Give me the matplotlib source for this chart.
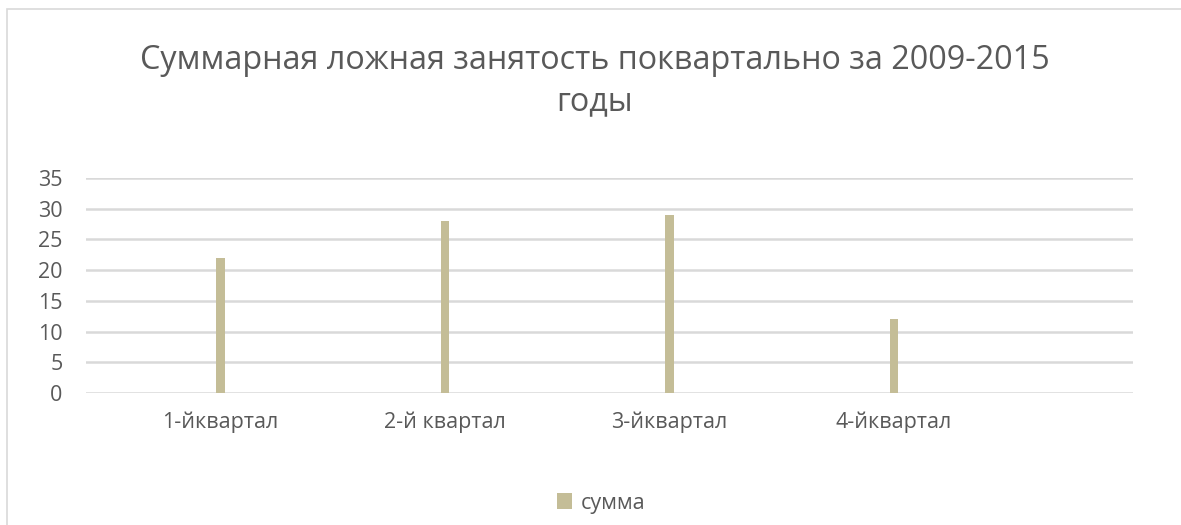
import matplotlib
matplotlib.use("Agg")
import matplotlib.pyplot as plt
from matplotlib.patches import Rectangle
import numpy as np

plt.rcParams['font.family'] = ['Open Sans', 'DejaVu Sans']

title = "Суммарная ложная занятость поквартально за 2009-2015\nгоды"
categories = ["1-йквартал", "2-й квартал", "3-йквартал", "4-йквартал"]
values = [22, 28, 29, 12]
series_name = "сумма"
yticks = [0, 5, 10, 15, 20, 25, 30, 35]

W, H = 1181, 525
fig = plt.figure(figsize=(W / 100, H / 100), dpi=100)
fig.patch.set_facecolor("white")

# light chart-area frame
fig.patches.append(Rectangle((7 / W, -0.1), 1.2, (H - 9) / H + 0.1,
                             transform=fig.transFigure, fill=False,
                             edgecolor="#d9d9d9", linewidth=1.2))

ax = fig.add_axes([86 / W, (H - 393) / H, (1133 - 86) / W, (393 - 178) / H])
x = np.arange(len(categories))
ax.bar(x, values, width=0.038, color="#c4bd97", label=series_name, zorder=3)

ax.set_xlim(-0.60, 4.065)
ax.set_ylim(0, 35)
ax.set_yticks(yticks)
ax.set_yticklabels([str(v) for v in yticks])
ax.set_xticks(x)
ax.set_xticklabels(categories)
ax.yaxis.grid(True, color="#d9d9d9", linewidth=1.8, zorder=0)
ax.set_axisbelow(True)
for s in ax.spines.values():
    s.set_visible(False)
ax.tick_params(axis="both", length=0, labelsize=15.5, labelcolor="#595959")
ax.tick_params(axis="y", pad=17)
ax.tick_params(axis="x", pad=13)

fig.text(595 / W, 1 - 81 / H, title, ha="center", va="center",
         fontsize=23.3, color="#595959", linespacing=1.35)

leg = fig.legend(loc="center", bbox_to_anchor=(601 / W, 1 - 503 / H),
                 frameon=False, fontsize=15.5, handlelength=0.7, handleheight=0.7,
                 handletextpad=0.4, labelcolor="#595959")

fig.savefig("out.png", dpi=100, facecolor="white")
